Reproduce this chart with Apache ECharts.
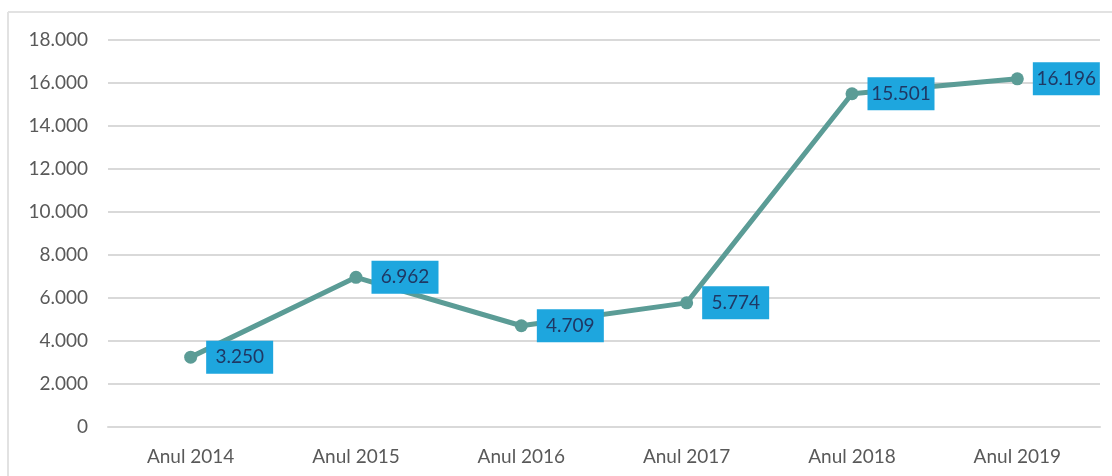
<!DOCTYPE html>
<html>
<head>
<meta charset="utf-8">
<script src="https://cdn.jsdelivr.net/npm/echarts@6/dist/echarts.min.js"></script>
<style>
html,body{margin:0;padding:0;background:#fff;}
#c{width:1112px;height:476px;}
</style>
</head>
<body>
<div id="c"></div>
<script>
const categories = ['Anul 2014','Anul 2015','Anul 2016','Anul 2017','Anul 2018','Anul 2019'];
const values = [3250, 6962, 4709, 5774, 15501, 16196];
const yTicks = [0, 2000, 4000, 6000, 8000, 10000, 12000, 14000, 16000, 18000];

function fmt(v){ return String(v).replace(/\B(?=(\d{3})+(?!\d))/g, '.'); }

const chart = echarts.init(document.getElementById('c'), null, {renderer:'canvas'});
chart.setOption({
  animation:false,
  backgroundColor:'#fff',
  textStyle:{fontFamily:'Lato'},
  graphic:[
    {type:'line', shape:{x1:8,y1:12,x2:1112,y2:12}, style:{stroke:'#e2e2e2', lineWidth:2}},
    {type:'line', shape:{x1:8,y1:12,x2:8,y2:476}, style:{stroke:'#e2e2e2', lineWidth:2}}
  ],
  grid:{left:108, right:12, top:40, bottom:49},
  xAxis:{
    type:'category',
    data:categories,
    axisLine:{show:true, lineStyle:{color:'#d9d9d9', width:2}},
    axisTick:{show:false},
    axisLabel:{color:'#595959', fontSize:19, margin:20, fontFamily:'Lato'}
  },
  yAxis:{
    type:'value',
    min:yTicks[0], max:yTicks[yTicks.length-1], interval:2000,
    axisLine:{show:false}, axisTick:{show:false},
    splitLine:{lineStyle:{color:'#d9d9d9', width:2}},
    axisLabel:{color:'#595959', fontSize:19, margin:20, fontFamily:'Lato', formatter:fmt}
  },
  series:[{
    type:'line',
    data:values,
    symbol:'circle',
    symbolSize:13,
    lineStyle:{color:'#5b9c96', width:5},
    itemStyle:{color:'#5b9c96'},
    label:{
      show:true,
      position:'right',
      distance:9,
      formatter:p=>'{b|' + fmt(p.value) + '}',
      rich:{
        b:{
          backgroundColor:'#1ea6de',
          color:'#1f3864',
          fontSize:19,
          fontFamily:'Lato',
          width:67,
          height:33,
          lineHeight:33,
          align:'center'
        }
      }
    }
  }]
});
</script>
</body>
</html>
